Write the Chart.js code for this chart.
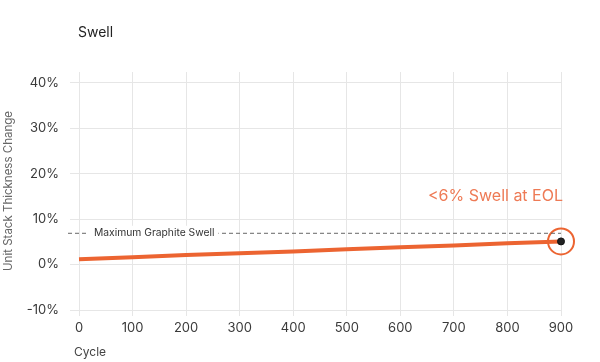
<!DOCTYPE html>
<html>
<head>
<meta charset="utf-8">
<script src="https://cdn.jsdelivr.net/npm/chart.js@4.4.1/dist/chart.umd.min.js"></script>
<style>
  html, body { margin: 0; padding: 0; background: #ffffff; }
  #wrap { width: 600px; height: 362px; position: relative; }
</style>
</head>
<body>
<div id="wrap"><canvas id="c" width="600" height="362"></canvas></div>
<script>
// ---- data ----
const chartTitle = "Swell";
const xAxisTitle = "Cycle";
const yAxisTitle = "Unit Stack Thickness Change";
const cycles = [0, 100, 200, 300, 400, 500, 600, 700, 800, 900];
const swellPct = [1.2, 1.6, 2.1, 2.5, 2.9, 3.4, 3.8, 4.2, 4.7, 5.1];
const yTickValues = [-10, 0, 10, 20, 30, 40];
const xTickValues = [0, 100, 200, 300, 400, 500, 600, 700, 800, 900];
const maxGraphiteSwell = 7;
const maxGraphiteLabel = "Maximum Graphite Swell";
const eolLabel = "<6% Swell at EOL";

const ORANGE = '#ec6431';
const ORANGE_TEXT = '#ee7a55';
const GRID = '#e6e6e6';
const FONT = 'Inter, "Noto Sans", sans-serif';

const lineData = cycles.map((c, i) => ({ x: c, y: swellPct[i] }));
const last = lineData[lineData.length - 1];

const overlay = {
  id: 'overlay',
  afterDatasetsDraw(chart) {
    const ctx = chart.ctx;
    const xs = chart.scales.x, ys = chart.scales.y;
    const ca = chart.chartArea;
    ctx.save();
    // dashed max graphite swell line
    const yD = ys.getPixelForValue(maxGraphiteSwell);
    const x0 = xs.getPixelForValue(cycles[0]) - 11;
    const x1 = xs.getPixelForValue(cycles[cycles.length - 1]);
    ctx.strokeStyle = '#666';
    ctx.lineWidth = 1;
    ctx.setLineDash([4, 3]);
    ctx.beginPath();
    ctx.moveTo(x0, yD + 0.5);
    ctx.lineTo(x1, yD + 0.5);
    ctx.stroke();
    ctx.setLineDash([]);
    // label with white background
    ctx.font = '10.3px ' + FONT;
    const tw = ctx.measureText(maxGraphiteLabel).width;
    const lx = x0 + 26;
    ctx.fillStyle = '#ffffff';
    ctx.fillRect(lx - 6, yD - 7, tw + 10, 14);
    ctx.fillStyle = '#333';
    ctx.textBaseline = 'middle';
    ctx.textAlign = 'left';
    ctx.fillText(maxGraphiteLabel, lx, yD + 0.5);
    // EOL annotation
    ctx.font = '16px ' + FONT;
    ctx.fillStyle = ORANGE_TEXT;
    ctx.textAlign = 'right';
    ctx.fillText(eolLabel, xs.getPixelForValue(last.x) + 2, ys.getPixelForValue(last.y) - 45);
    // titles
    ctx.font = '14px ' + FONT;
    ctx.fillStyle = '#222';
    ctx.textAlign = 'left';
    ctx.fillText(chartTitle, ca.left - 1, 33);
    ctx.font = '12px ' + FONT;
    ctx.fillStyle = '#444';
    ctx.fillText(xAxisTitle, ca.left - 5, 352);
    ctx.restore();
  }
};

new Chart(document.getElementById('c'), {
  type: 'line',
  data: {
    datasets: [
      {
        label: 'Swell',
        data: lineData,
        borderColor: ORANGE,
        borderWidth: 4,
        pointRadius: lineData.map((p, i) => i === lineData.length - 1 ? 3.5 : 0),
        pointBackgroundColor: '#222',
        pointBorderColor: '#111',
        pointBorderWidth: 1,
        tension: 0,
        clip: false,
        order: 1
      },
      {
        label: 'EOL marker',
        data: [last],
        showLine: false,
        pointRadius: 13,
        pointBackgroundColor: 'rgba(0,0,0,0)',
        pointBorderColor: ORANGE,
        pointBorderWidth: 2,
        clip: false,
        order: 2
      }
    ]
  },
  options: {
    responsive: false,
    animation: false,
    events: [],
    layout: { padding: { top: 72, right: 39, left: 0, bottom: 0 } },
    plugins: { legend: { display: false }, tooltip: { enabled: false }, title: { display: false } },
    scales: {
      x: {
        type: 'linear',
        min: 0, max: 900,
        afterBuildTicks: s => { s.ticks = xTickValues.map(v => ({ value: v })); },
        afterFit: s => { s.height = 52; },
        grid: { color: GRID, tickLength: 6, drawTicks: true },
        border: { color: GRID },
        ticks: { color: '#3a3a3a', font: { family: FONT, size: 13 }, padding: 4, maxRotation: 0 }
      },
      y: {
        type: 'linear',
        min: -10, max: 42.4,
        afterBuildTicks: s => { s.ticks = yTickValues.map(v => ({ value: v })); },
        afterFit: s => { s.width = 79; },
        grid: { color: GRID, tickLength: 9, drawTicks: true },
        border: { color: GRID },
        ticks: { color: '#3a3a3a', font: { family: FONT, size: 13 }, padding: 11, callback: v => v + '%' },
        title: { display: true, text: yAxisTitle, color: '#666', font: { family: FONT, size: 11.5 }, padding: { top: 2, bottom: 0 } }
      }
    }
  },
  plugins: [overlay]
});
</script>
</body>
</html>
